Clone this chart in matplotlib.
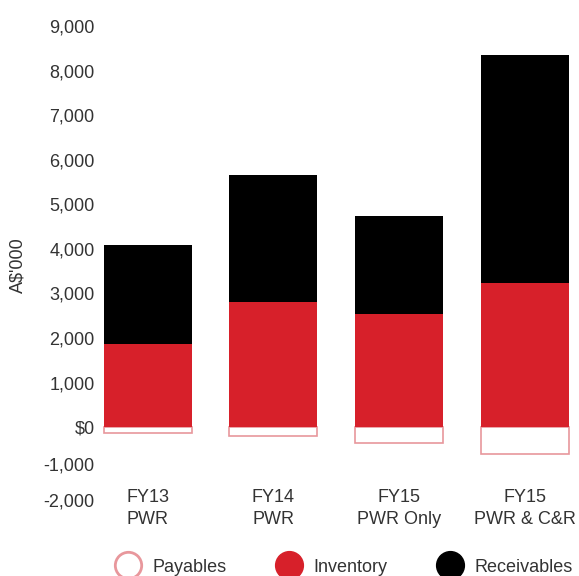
import numpy as np
import matplotlib.pyplot as plt
from matplotlib.lines import Line2D

categories = ["FY13\nPWR", "FY14\nPWR", "FY15\nPWR Only", "FY15\nPWR & C&R"]
payables = [-140, -200, -360, -610]
inventory = [1870, 2810, 2540, 3230]
receivables = [2210, 2840, 2190, 5120]

ytick_vals = [9000, 8000, 7000, 6000, 5000, 4000, 3000, 2000, 1000, 0]
ytick_labels = ["9,000", "8,000", "7,000", "6,000", "5,000", "4,000",
                "3,000", "2,000", "1,000", "$0"]
# the source squeezes the negative labels closer together than the scale
neg_tick_vals = [-830, -1630]
neg_tick_labels = ["-1,000", "-2,000"]

RED = "#d7202a"
PINK = "#e8979c"
TXT = "#333333"

plt.rcParams["font.family"] = ["Liberation Sans", "DejaVu Sans"]

fig = plt.figure(figsize=(5.79, 5.76), dpi=100)
ax = fig.add_axes([100 / 579, 1 - 503 / 576, 475 / 579, (503 - 26) / 576])

x = np.arange(len(categories))
w = 0.70
ax.bar(x, payables, w, color="white", edgecolor=PINK, linewidth=1.2)
ax.bar(x, inventory, w, color=RED)
ax.bar(x, receivables, w, bottom=inventory, color="black")

ax.set_xlim(-0.38, 3.40)
ax.set_ylim(-1700, 9000)
ax.set_yticks(ytick_vals + neg_tick_vals)
ax.set_yticklabels(ytick_labels + neg_tick_labels)
ax.set_xticks(x)
ax.set_xticklabels(categories, linespacing=1.4)
ax.tick_params(axis="both", length=0, labelsize=13, colors=TXT)
ax.tick_params(axis="y", pad=4)
ax.tick_params(axis="x", pad=-10)
for s in ax.spines.values():
    s.set_visible(False)

fig.text(18 / 579, 1 - 265 / 576, "A$'000", rotation=90, ha="center",
         va="center", fontsize=13, color=TXT)

handles = [
    Line2D([], [], ls="none", marker="o", markersize=19, markerfacecolor="white",
           markeredgecolor=PINK, markeredgewidth=2),
    Line2D([], [], ls="none", marker="o", markersize=20, markerfacecolor=RED,
           markeredgecolor=RED),
    Line2D([], [], ls="none", marker="o", markersize=20, markerfacecolor="black",
           markeredgecolor="black"),
]
leg = fig.legend(handles, ["Payables", "Inventory", "Receivables"], ncol=3,
                 loc="center", bbox_to_anchor=(0.5935, 1 - 567 / 576),
                 frameon=False, fontsize=13, handletextpad=0.6,
                 columnspacing=2.72, handlelength=1.5)
for t in leg.get_texts():
    t.set_color(TXT)

fig.savefig("out.png", dpi=100)
